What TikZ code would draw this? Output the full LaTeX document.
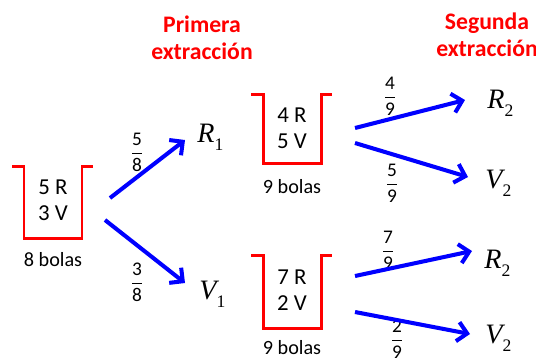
\documentclass[tikz,border=0pt]{standalone}
\usepackage{fontspec}
\usepackage{amsmath}
\setmainfont{Carlito}
\newfontfamily\tnr{Liberation Serif}
\usetikzlibrary{arrows.meta}
\definecolor{urnred}{HTML}{FF0000}
\definecolor{arrblue}{HTML}{0000FF}
\newcommand{\ev}[2]{{\tnr\itshape #1}\raisebox{-0.6ex}{\tnr\fontsize{10}{10}\selectfont #2}}
\newcommand{\fr}[2]{$\dfrac{\text{#1}}{\text{#2}}$}

\begin{document}
\begin{tikzpicture}[x=0.02cm,y=-0.02cm,
  urn/.style={draw=urnred,line width=1.7pt},
  urntext/.style={align=center,font=\fontsize{13}{14.8}\selectfont},
  bolas/.style={font=\fontsize{11.5}{13}\selectfont},
  title/.style={text=urnred,align=center,font=\bfseries\fontsize{13.5}{15.3}\selectfont},
  event/.style={anchor=base west,inner sep=0pt,font=\fontsize{16}{18}\selectfont},
  prob/.style={inner sep=0pt,font=\fontsize{11}{12}\selectfont},
  arr/.style={draw=arrblue,line width=2.3pt,-{Straight Barb[length=5.5pt,width=11pt]}}]
  \useasboundingbox (0,0) rectangle (536,363);
  \node[title] (t1) at (202,38) {Primera\\extracción};
  \node[title] (t2) at (487,35) {Segunda\\extracción};
  \foreach \cx/\yt/\yb in {53/166/238,292/94/163,292/255/328}
    \draw[urn] (\cx-41,\yt) -- (\cx-29,\yt) -- (\cx-29,\yb) -- (\cx+29,\yb) -- (\cx+29,\yt) -- (\cx+40,\yt);
  \node[urntext] (ua) at (53,200) {5 R\\3 V};
  \node[urntext] (ub) at (292,128.5) {4 R\\5 V};
  \node[urntext] (uc) at (292,290) {7 R\\2 V};
  \node[bolas] (na) at (53,260) {8 bolas};
  \node[bolas] (nb) at (292,187) {9 bolas};
  \node[bolas] (nc) at (292,348) {9 bolas};
  \node[event] (r1) at (197,142) {\ev{R}{1}};
  \node[event] (v1) at (199,299) {\ev{V}{1}};
  \node[event] (r2a) at (487,108) {\ev{R}{2}};
  \node[event] (v2a) at (485,188) {\ev{V}{2}};
  \node[event] (r2b) at (484,268) {\ev{R}{2}};
  \node[event] (v2b) at (485,343) {\ev{V}{2}};
  \node[prob] (p58) at (137,152) {\fr{5}{8}};
  \node[prob] (p38) at (137,282) {\fr{3}{8}};
  \node[prob] (p49) at (390,96) {\fr{4}{9}};
  \node[prob] (p59) at (392,183) {\fr{5}{9}};
  \node[prob] (p79) at (388,250) {\fr{7}{9}};
  \node[prob] (p29) at (397,339) {\fr{2}{9}};
  \coordinate (sa1) at (110,198);
  \coordinate (sa2) at (105,220);
  \coordinate (sb1) at (355,128);
  \coordinate (sb2) at (355,143);
  \coordinate (sc1) at (355,276);
  \coordinate (sc2) at (355,312);
  \draw[arr] (sa1) -- ([shift={(-12,-2)}]r1.base west);
  \draw[arr] (sa2) -- ([shift={(-14,-16)}]v1.base west);
  \draw[arr] (sb1) -- ([shift={(-22,-8)}]r2a.base west);
  \draw[arr] (sb2) -- ([shift={(-17,-11)}]v2a.base west);
  \draw[arr] (sc1) -- ([shift={(-12,-17)}]r2b.base west);
  \draw[arr] (sc2) -- ([shift={(-15,-9)}]v2b.base west);
\end{tikzpicture}
\end{document}
